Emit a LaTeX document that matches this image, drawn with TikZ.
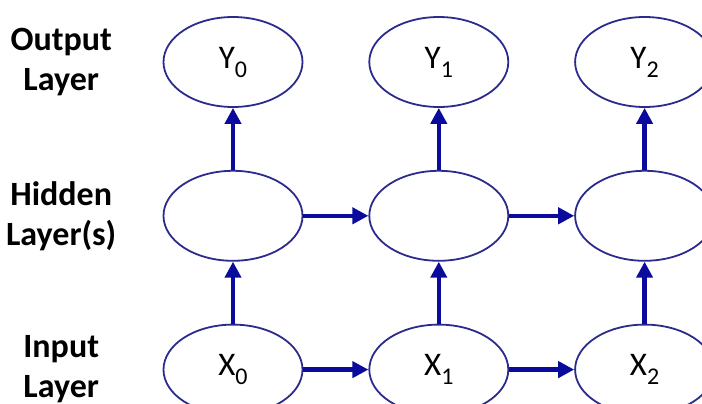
\documentclass[tikz,border=0pt]{standalone}
\usepackage{fontspec}
\setmainfont{Carlito}
\usepackage{xcolor}
\usepackage{tikz}
\usetikzlibrary{arrows.meta,positioning,shapes.geometric}
\definecolor{azulelipse}{HTML}{2B2B8E}
\definecolor{azulseta}{HTML}{0A0A9C}
\newcommand{\idx}[1]{\raisebox{-4.5pt}{\fontsize{12}{12}\selectfont#1}}
\begin{document}
\begin{tikzpicture}[
  node distance=31pt and 32.5pt,
  unit/.style={draw=azulelipse,line width=0.9pt,ellipse,minimum width=69.5pt,minimum height=45pt,inner sep=0pt,font=\fontsize{16.5}{19}\selectfont},
  layer/.style={text width=60pt,inner sep=0pt,align=center,font=\fontsize{17}{20}\selectfont\bfseries},
  arrow/.style={-{Triangle[length=8pt,width=8pt]},line width=2.2pt,draw=azulseta,fill=azulseta}
]
  \useasboundingbox (0,0) rectangle (351pt,201.5pt);
  \node[unit] (out0) at (116.5pt,170.5pt) {Y\idx{0}};
  \node[unit,right=of out0] (out1) {Y\idx{1}};
  \node[unit,right=of out1] (out2) {Y\idx{2}};
  \node[unit,below=of out0] (hid0) {};
  \node[unit,below=of out1] (hid1) {};
  \node[unit,below=of out2] (hid2) {};
  \node[unit,below=of hid0] (in0) {X\idx{0}};
  \node[unit,below=of hid1] (in1) {X\idx{1}};
  \node[unit,below=of hid2] (in2) {X\idx{2}};
  \node[layer,left=20.5pt of out0] (outlbl) {Output\\Layer};
  \node[layer,left=20.5pt of hid0] (hidlbl) {Hidden\\Layer(s)};
  \node[layer,left=20.5pt of in0] (inlbl) {Input\\Layer};
  \draw[arrow] (in0)--(hid0);
  \draw[arrow] (in1)--(hid1);
  \draw[arrow] (in2)--(hid2);
  \draw[arrow] (hid0)--(out0);
  \draw[arrow] (hid1)--(out1);
  \draw[arrow] (hid2)--(out2);
  \draw[arrow] (in0)--(in1);
  \draw[arrow] (in1)--(in2);
  \draw[arrow] (hid0)--(hid1);
  \draw[arrow] (hid1)--(hid2);
\end{tikzpicture}
\end{document}
